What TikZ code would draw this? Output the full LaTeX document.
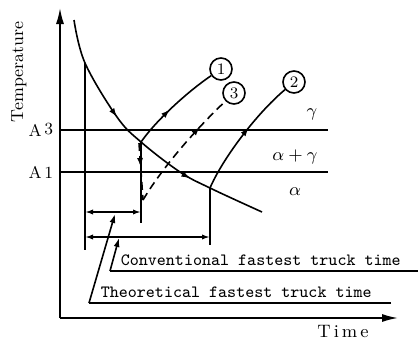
\documentclass[tikz,border=0pt]{standalone}
\usetikzlibrary{arrows.meta,decorations.markings}

\tikzset{
  midarrow/.style={postaction={decorate,decoration={markings,
      mark=at position #1 with {\arrow{Latex[length=4.5pt,width=3pt]}}}}},
  stagecirc/.style={draw,circle,minimum size=11pt,inner sep=0pt,
      font=\fontsize{8}{8}\selectfont},
  leadtext/.style={font=\fontsize{8.6}{10}\ttfamily,inner sep=0pt,anchor=base west},
  phasetext/.style={font=\fontsize{9.5}{10}\selectfont,inner sep=0pt},
  tempmark/.style={font=\fontsize{8.5}{10}\selectfont,inner sep=0pt,anchor=east},
  dimarrow/.style={{Latex[length=4pt,width=2.6pt]}-{Latex[length=4pt,width=2.6pt]}},
  axisarrow/.style={-{Latex[length=8pt,width=4pt]}},
  dropline/.style={dash pattern=on 4pt off 2.5pt},
}

\begin{document}
\begin{tikzpicture}[x=0.5pt,y=-0.5pt,line width=0.8pt]
  \useasboundingbox (0,0) rectangle (418,338);

  % ========== Axes ==========
  \coordinate (O) at (60,318);
  \coordinate (ytop) at (60,8);
  \coordinate (xend) at (398,318);
  \draw[axisarrow] (O) -- (ytop);
  \draw[axisarrow] (O) -- (xend);
  \node[rotate=90,font=\fontsize{8.7}{10}\selectfont] (temp) at (19,72) {Temperature};
  \node[font=\fontsize{9}{10}\selectfont,anchor=base] (time) at (343,337) {T\,i\,m\,e};

  % ========== A3 / A1 lines ==========
  \coordinate (a3l) at (60,130);
  \coordinate (a3r) at (328,130);
  \coordinate (a1l) at (60,172);
  \coordinate (a1r) at (328,172);
  \draw (a3l) -- (a3r);
  \draw (a1l) -- (a1r);
  \node[tempmark] (a3) at (54,130) {A\,\raisebox{1pt}{3}};
  \node[tempmark] (a1) at (54,172) {A\,1};

  \node[phasetext] (gam) at (312,114) {$\gamma$};
  \node[phasetext] (alga) at (295,157) {$\alpha+\gamma$};
  \node[phasetext] (alp) at (295,192) {$\alpha$};

  % ========== cooling curve ==========
  \coordinate (c0) at (74,20);
  \coordinate (p0) at (85,63);
  \coordinate (p1) at (117,117);
  \coordinate (p2) at (141,142);
  \coordinate (p3) at (180,172);
  \coordinate (p4) at (210,188);
  \coordinate (c1) at (262,212);
  \draw[midarrow=0.38,midarrow=0.72] plot[smooth,tension=0.6]
    coordinates {(c0) (p0) (p1) (p2) (p3) (p4) (c1)};

  % vertical guides
  \coordinate (v0) at (85,250);
  \coordinate (v1) at (141,223);
  \coordinate (v2) at (210,245);
  \draw (p0) -- (v0);
  \draw (p2) -- (v1);
  \draw (p4) -- (v2);

  % ========== paths 1, 2, 3 ==========
  \node[stagecirc] (n1) at (221,69) {1};
  \node[stagecirc] (n2) at (294,82) {2};
  \node[stagecirc] (n3) at (234,93) {3};

  \draw[midarrow=0.45] (p2) .. controls (158,118) and (190,90) .. (n1);
  \draw[midarrow=0.58] (p4) .. controls (222,160) and (255,115) .. (n2);

  \coordinate (d0) at (139,143);
  \coordinate (vb) at (143,200);
  \draw[dropline,midarrow=0.42] (d0) -- (vb);
  \draw[dropline,midarrow=0.72] (vb) .. controls (162,168) and (195,130) .. (n3);

  % ========== truck times ==========
  \coordinate (s0) at (85,212);
  \coordinate (s1) at (141,212);
  \coordinate (l0) at (85,237);
  \coordinate (l1) at (210,237);
  \draw[dimarrow] (s0) -- (s1);
  \draw[dimarrow] (l0) -- (l1);

  \coordinate (cv0) at (110,271);
  \coordinate (cv1) at (418,271);
  \coordinate (cvt) at (119,238);
  \draw (cv1) -- (cv0);
  \draw[-{Latex[length=4.5pt,width=3pt]}] (cv0) -- (cvt);
  \node[leadtext] (conv) at (120,265) {Conventional fastest truck time};

  \coordinate (th0) at (89,303);
  \coordinate (th1) at (391,303);
  \coordinate (tht) at (115,214);
  \draw (th1) -- (th0);
  \draw[-{Latex[length=4.5pt,width=3pt]}] (th0) -- (tht);
  \node[leadtext] (theo) at (100,297) {Theoretical fastest truck time};

\end{tikzpicture}
\end{document}
